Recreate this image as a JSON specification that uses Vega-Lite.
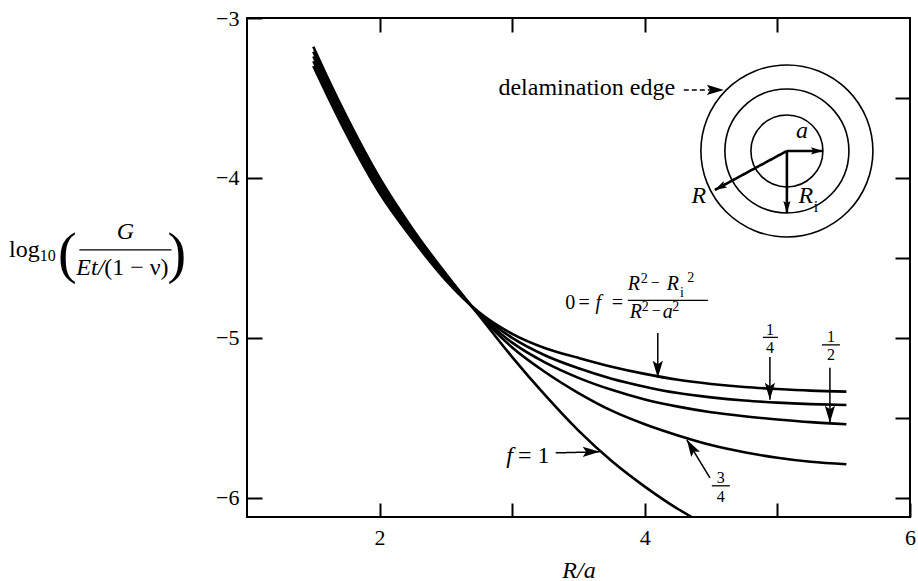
{
  "$schema": "https://vega.github.io/schema/vega-lite/v6.json",
  "width": 663,
  "height": 499,
  "autosize": {"type": "none"},
  "padding": {"left": 247, "top": 18, "right": 8, "bottom": 64},
  "background": "white",
  "config": {
    "view": {"stroke": "black", "strokeWidth": 2},
    "font": "Liberation Serif"
  },
  "datasets": {
    "curves": [
      {"f": "0", "x": 1.5, "y": -3.30}, {"f": "0", "x": 1.6, "y": -3.475}, {"f": "0", "x": 1.75, "y": -3.725}, {"f": "0", "x": 2.0, "y": -4.095}, {"f": "0", "x": 2.25, "y": -4.385}, {"f": "0", "x": 2.5, "y": -4.64}, {"f": "0", "x": 2.75, "y": -4.84}, {"f": "0", "x": 3.0, "y": -4.975}, {"f": "0", "x": 3.25, "y": -5.065}, {"f": "0", "x": 3.5, "y": -5.125}, {"f": "0", "x": 3.75, "y": -5.18}, {"f": "0", "x": 4.0, "y": -5.225}, {"f": "0", "x": 4.25, "y": -5.262}, {"f": "0", "x": 4.5, "y": -5.288}, {"f": "0", "x": 4.75, "y": -5.307}, {"f": "0", "x": 5.0, "y": -5.32}, {"f": "0", "x": 5.25, "y": -5.33}, {"f": "0", "x": 5.52, "y": -5.336},
      {"f": "1/4", "x": 1.5, "y": -3.27}, {"f": "1/4", "x": 1.6, "y": -3.445}, {"f": "1/4", "x": 1.75, "y": -3.695}, {"f": "1/4", "x": 2.0, "y": -4.07}, {"f": "1/4", "x": 2.25, "y": -4.37}, {"f": "1/4", "x": 2.5, "y": -4.63}, {"f": "1/4", "x": 2.75, "y": -4.845}, {"f": "1/4", "x": 3.0, "y": -5.0}, {"f": "1/4", "x": 3.25, "y": -5.11}, {"f": "1/4", "x": 3.5, "y": -5.19}, {"f": "1/4", "x": 3.75, "y": -5.255}, {"f": "1/4", "x": 4.0, "y": -5.305}, {"f": "1/4", "x": 4.25, "y": -5.345}, {"f": "1/4", "x": 4.5, "y": -5.372}, {"f": "1/4", "x": 4.75, "y": -5.392}, {"f": "1/4", "x": 5.0, "y": -5.405}, {"f": "1/4", "x": 5.25, "y": -5.414}, {"f": "1/4", "x": 5.52, "y": -5.42},
      {"f": "1/2", "x": 1.5, "y": -3.24}, {"f": "1/2", "x": 1.6, "y": -3.415}, {"f": "1/2", "x": 1.75, "y": -3.665}, {"f": "1/2", "x": 2.0, "y": -4.045}, {"f": "1/2", "x": 2.25, "y": -4.355}, {"f": "1/2", "x": 2.5, "y": -4.62}, {"f": "1/2", "x": 2.75, "y": -4.85}, {"f": "1/2", "x": 3.0, "y": -5.03}, {"f": "1/2", "x": 3.25, "y": -5.155}, {"f": "1/2", "x": 3.5, "y": -5.25}, {"f": "1/2", "x": 3.75, "y": -5.325}, {"f": "1/2", "x": 4.0, "y": -5.385}, {"f": "1/2", "x": 4.25, "y": -5.43}, {"f": "1/2", "x": 4.5, "y": -5.465}, {"f": "1/2", "x": 4.75, "y": -5.49}, {"f": "1/2", "x": 5.0, "y": -5.51}, {"f": "1/2", "x": 5.25, "y": -5.527}, {"f": "1/2", "x": 5.52, "y": -5.54},
      {"f": "3/4", "x": 1.5, "y": -3.21}, {"f": "3/4", "x": 1.6, "y": -3.385}, {"f": "3/4", "x": 1.75, "y": -3.635}, {"f": "3/4", "x": 2.0, "y": -4.02}, {"f": "3/4", "x": 2.25, "y": -4.335}, {"f": "3/4", "x": 2.5, "y": -4.605}, {"f": "3/4", "x": 2.75, "y": -4.855}, {"f": "3/4", "x": 3.0, "y": -5.06}, {"f": "3/4", "x": 3.25, "y": -5.215}, {"f": "3/4", "x": 3.5, "y": -5.345}, {"f": "3/4", "x": 3.75, "y": -5.455}, {"f": "3/4", "x": 4.0, "y": -5.54}, {"f": "3/4", "x": 4.25, "y": -5.61}, {"f": "3/4", "x": 4.5, "y": -5.67}, {"f": "3/4", "x": 4.75, "y": -5.715}, {"f": "3/4", "x": 5.0, "y": -5.75}, {"f": "3/4", "x": 5.25, "y": -5.775}, {"f": "3/4", "x": 5.52, "y": -5.79},
      {"f": "1", "x": 1.5, "y": -3.18}, {"f": "1", "x": 1.6, "y": -3.36}, {"f": "1", "x": 1.75, "y": -3.615}, {"f": "1", "x": 2.0, "y": -4.0}, {"f": "1", "x": 2.25, "y": -4.32}, {"f": "1", "x": 2.5, "y": -4.6}, {"f": "1", "x": 2.75, "y": -4.86}, {"f": "1", "x": 3.0, "y": -5.12}, {"f": "1", "x": 3.25, "y": -5.36}, {"f": "1", "x": 3.5, "y": -5.58}, {"f": "1", "x": 3.75, "y": -5.77}, {"f": "1", "x": 4.0, "y": -5.93}, {"f": "1", "x": 4.25, "y": -6.07}, {"f": "1", "x": 4.352, "y": -6.12}
    ],
    "circles": [
      {"ring": "a", "x": 5.0717, "y": -3.83125},
      {"ring": "Ri", "x": 5.0717, "y": -3.83125},
      {"ring": "R", "x": 5.0717, "y": -3.83125}
    ],
    "arrows": [
      {"id": "f0", "x": 4.098, "y": -4.969, "x2": 4.098, "y2": -5.25, "ang": 180, "grp": "label", "dash": "solid"},
      {"id": "f14", "x": 4.9434, "y": -5.119, "x2": 4.9434, "y2": -5.3875, "ang": 180, "grp": "label", "dash": "solid"},
      {"id": "f12", "x": 5.396, "y": -5.1875, "x2": 5.396, "y2": -5.531, "ang": 180, "grp": "label", "dash": "solid"},
      {"id": "f34", "x": 4.491, "y": -5.875, "x2": 4.317, "y2": -5.6375, "ang": 328.8, "grp": "label", "dash": "solid"},
      {"id": "f1", "x": 3.328, "y": -5.719, "x2": 3.66, "y2": -5.7125, "ang": 90, "grp": "label", "dash": "solid"},
      {"id": "edge", "x": 4.2943, "y": -3.45, "x2": 4.5962, "y2": -3.45, "ang": 90, "grp": "label", "dash": "dashed"},
      {"id": "a", "x": 5.0717, "y": -3.83125, "x2": 5.3434, "y2": -3.83125, "ang": 90, "grp": "diagram", "dash": "solid"},
      {"id": "R", "x": 5.0717, "y": -3.83125, "x2": 4.5283, "y2": -4.075, "ang": 241.6, "grp": "diagram", "dash": "solid"},
      {"id": "Ri", "x": 5.0717, "y": -3.83125, "x2": 5.0717, "y2": -4.2188, "ang": 180, "grp": "diagram", "dash": "solid"}
    ],
    "bars": [
      {"x": -0.2642, "x2": 0.4302, "y": -4.45},
      {"x": 3.8717, "x2": 4.4755, "y": -4.7656},
      {"x": 4.8906, "x2": 5.0038, "y": -4.9969},
      {"x": 5.3358, "x2": 5.4717, "y": -5.0438},
      {"x": 4.5057, "x2": 4.6415, "y": -5.925}
    ],
    "up24": [
      {"t": "log", "x": -0.6792, "y": -4.4938},
      {"t": "(1 − ν)", "x": 0.166, "y": -4.6063},
      {"t": "delamination edge", "x": 3.5623, "y": -3.4813},
      {"t": "= 1", "x": 3.1623, "y": -5.7813}
    ],
    "it24": [
      {"t": "G", "x": 0.083, "y": -4.3813},
      {"t": "Et/", "x": -0.1812, "y": -4.6063},
      {"t": "R", "x": 4.4075, "y": -4.1563},
      {"t": "a", "x": 5.1849, "y": -3.75},
      {"t": "R", "x": 5.2151, "y": -4.1563},
      {"t": "f", "x": 2.9811, "y": -5.7813}
    ],
    "up20": [
      {"t": "0", "x": 3.4377, "y": -4.8188},
      {"t": "=", "x": 3.5434, "y": -4.8188},
      {"t": "=", "x": 3.7925, "y": -4.8188}
    ],
    "it20": [
      {"t": "f", "x": 3.6491, "y": -4.8188},
      {"t": "R", "x": 3.917, "y": -4.7},
      {"t": "R", "x": 4.2113, "y": -4.7},
      {"t": "R", "x": 3.9321, "y": -4.875},
      {"t": "a", "x": 4.1736, "y": -4.875}
    ],
    "up14": [
      {"t": "2", "x": 3.9962, "y": -4.6563},
      {"t": "i", "x": 4.2792, "y": -4.7438},
      {"t": "2", "x": 4.3472, "y": -4.65},
      {"t": "2", "x": 4.0038, "y": -4.8344},
      {"t": "2", "x": 4.234, "y": -4.8344}
    ],
    "up16": [
      {"t": "1", "x": 4.9434, "y": -4.9813},
      {"t": "4", "x": 4.9434, "y": -5.0938},
      {"t": "1", "x": 5.4038, "y": -5.025},
      {"t": "2", "x": 5.4038, "y": -5.1375},
      {"t": "3", "x": 4.5736, "y": -5.9063},
      {"t": "4", "x": 4.5736, "y": -6.025},
      {"t": "10", "x": -0.5019, "y": -4.5188},
      {"t": "i", "x": 5.2906, "y": -4.2125},
      {"t": "−", "x": 4.0792, "y": -4.69},
      {"t": "−", "x": 4.0868, "y": -4.865}
    ],
    "parens": [
      {"t": "(", "x": -0.3547, "y": -4.5875},
      {"t": ")", "x": 0.4717, "y": -4.5875}
    ]
  },
  "encoding": {
    "x": {"field": "x", "type": "quantitative", "scale": {"domain": [1, 6], "nice": false, "zero": false}, "axis": null},
    "y": {"field": "y", "type": "quantitative", "scale": {"domain": [-6.12, -3], "nice": false, "zero": false}, "axis": null}
  },
  "layer": [
    {
      "data": {"name": "curves"},
      "mark": {"type": "line", "color": "black", "strokeWidth": 2.6, "interpolate": "monotone", "clip": true},
      "encoding": {
        "x": {"field": "x", "type": "quantitative", "scale": {"domain": [1, 6], "nice": false, "zero": false},
          "axis": {"orient": "bottom", "values": [2, 3, 4, 5, 6], "format": "d", "labelExpr": "datum.value % 2 === 0 ? datum.label : ''",
            "tickSize": -14, "tickWidth": 2, "tickColor": "black", "domain": false, "grid": false,
            "labelFont": "Liberation Serif", "labelFontSize": 22, "labelColor": "black", "labelPadding": 24, "labelFlush": false, "labelOverlap": false,
            "title": "R/a", "titleFont": "Liberation Serif", "titleFontSize": 24, "titleFontStyle": "italic", "titleFontWeight": "normal", "titleColor": "black", "titlePadding": 10}},
        "y": {"field": "y", "type": "quantitative", "scale": {"domain": [-6.12, -3], "nice": false, "zero": false},
          "axis": {"orient": "left", "values": [-6, -5.5, -5, -4.5, -4, -3.5, -3], "format": "d", "labelExpr": "datum.value % 1 === 0 ? datum.label : ''",
            "tickSize": -15, "tickWidth": 2, "tickColor": "black", "domain": false, "grid": false,
            "labelFont": "Liberation Serif", "labelFontSize": 22, "labelColor": "black", "labelPadding": 23, "labelFlush": false, "labelOverlap": false,
            "title": null}},
        "detail": {"field": "f"}
      }
    },
    {
      "data": {"name": "circles"},
      "transform": [{"filter": "datum.ring === 'R'"}],
      "mark": {"type": "point", "shape": "circle", "filled": false, "stroke": "black", "strokeWidth": 1.6, "opacity": 1, "size": 29584},
      "encoding": {
        "x": {"field": "x", "type": "quantitative", "scale": {"domain": [1, 6], "nice": false, "zero": false},
          "axis": {"orient": "top", "values": [2, 3, 4, 5], "labels": false, "tickSize": -14, "tickWidth": 2, "tickColor": "black", "domain": false, "grid": false, "title": null}},
        "y": {"field": "y", "type": "quantitative", "scale": {"domain": [-6.12, -3], "nice": false, "zero": false},
          "axis": {"orient": "right", "values": [-6, -5.5, -5, -4.5, -4, -3.5], "labels": false, "tickSize": -15, "tickWidth": 2, "tickColor": "black", "domain": false, "grid": false, "title": null}}
      }
    },
    {
      "data": {"name": "circles"},
      "transform": [{"filter": "datum.ring === 'Ri'"}],
      "mark": {"type": "point", "shape": "circle", "filled": false, "stroke": "black", "strokeWidth": 1.6, "opacity": 1, "size": 15376}
    },
    {
      "data": {"name": "circles"},
      "transform": [{"filter": "datum.ring === 'a'"}],
      "mark": {"type": "point", "shape": "circle", "filled": false, "stroke": "black", "strokeWidth": 1.6, "opacity": 1, "size": 5184}
    },
    {
      "data": {"name": "arrows"},
      "mark": {"type": "rule", "color": "black"},
      "encoding": {
        "x2": {"field": "x2"},
        "y2": {"field": "y2"},
        "strokeWidth": {"field": "grp", "type": "nominal", "scale": {"domain": ["label", "diagram"], "range": [1.5, 2.6]}, "legend": null},
        "strokeDash": {"field": "dash", "type": "nominal", "scale": {"domain": ["solid", "dashed"], "range": [[1, 0], [5, 3]]}, "legend": null}
      }
    },
    {
      "data": {"name": "arrows"},
      "mark": {"type": "point", "shape": "M0,0L-0.6,2L0,1.6L0.6,2Z", "filled": true, "color": "black", "opacity": 1},
      "encoding": {
        "x": {"field": "x2", "type": "quantitative", "scale": {"domain": [1, 6], "nice": false, "zero": false}, "axis": null},
        "y": {"field": "y2", "type": "quantitative", "scale": {"domain": [-6.12, -3], "nice": false, "zero": false}, "axis": null},
        "angle": {"field": "ang", "type": "quantitative", "scale": null},
        "size": {"field": "grp", "type": "nominal", "scale": {"domain": ["label", "diagram"], "range": [289, 144]}, "legend": null}
      }
    },
    {
      "data": {"name": "bars"},
      "mark": {"type": "rule", "color": "black", "strokeWidth": 1.3},
      "encoding": {"x2": {"field": "x2"}}
    },
    {
      "data": {"name": "up24"},
      "mark": {"type": "text", "font": "Liberation Serif", "fontSize": 24, "align": "center", "baseline": "alphabetic", "fill": "black"},
      "encoding": {"text": {"field": "t"}}
    },
    {
      "data": {"name": "it24"},
      "mark": {"type": "text", "font": "Liberation Serif", "fontSize": 24, "fontStyle": "italic", "align": "center", "baseline": "alphabetic", "fill": "black"},
      "encoding": {"text": {"field": "t"}}
    },
    {
      "data": {"name": "up20"},
      "mark": {"type": "text", "font": "Liberation Serif", "fontSize": 20, "align": "center", "baseline": "alphabetic", "fill": "black"},
      "encoding": {"text": {"field": "t"}}
    },
    {
      "data": {"name": "it20"},
      "mark": {"type": "text", "font": "Liberation Serif", "fontSize": 20, "fontStyle": "italic", "align": "center", "baseline": "alphabetic", "fill": "black"},
      "encoding": {"text": {"field": "t"}}
    },
    {
      "data": {"name": "up14"},
      "mark": {"type": "text", "font": "Liberation Serif", "fontSize": 14, "align": "center", "baseline": "alphabetic", "fill": "black"},
      "encoding": {"text": {"field": "t"}}
    },
    {
      "data": {"name": "up16"},
      "mark": {"type": "text", "font": "Liberation Serif", "fontSize": 16, "align": "center", "baseline": "alphabetic", "fill": "black"},
      "encoding": {"text": {"field": "t"}}
    },
    {
      "data": {"name": "parens"},
      "mark": {"type": "text", "font": "Liberation Serif", "fontSize": 56, "align": "center", "baseline": "alphabetic", "fill": "black"},
      "encoding": {"text": {"field": "t"}}
    }
  ],
  "resolve": {"axis": {"x": "independent", "y": "independent"}, "scale": {"size": "independent", "strokeWidth": "independent"}}
}
